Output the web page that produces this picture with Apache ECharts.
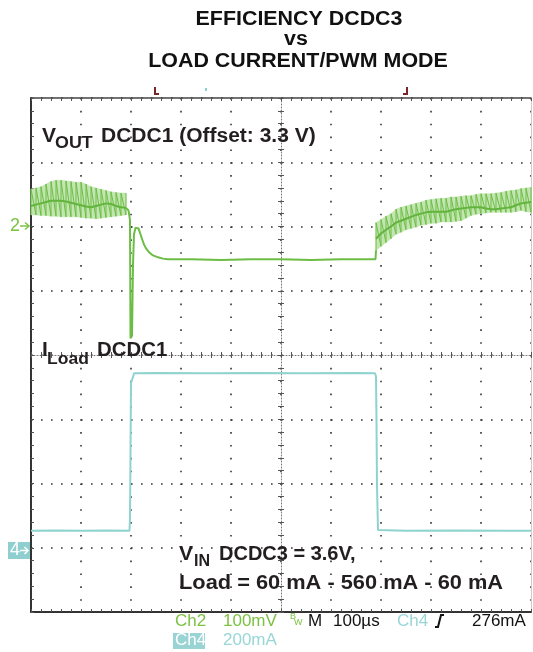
<!DOCTYPE html>
<html>
<head>
<meta charset="utf-8">
<script src="https://cdn.jsdelivr.net/npm/echarts@6/dist/echarts.min.js"></script>
<style>
  html, body { margin: 0; padding: 0; background: #fff; }
  #scope { width: 533px; height: 652px; }
</style>
</head>
<body>
<div id="scope"></div>
<script>
  // time in µs (100 µs/div, centre of screen = 0), Ch2 in mV (offset 3.3 V), Ch4 in mA
  const bandLeftT = [-500, -490, -480, -470, -460, -450, -440, -430, -420, -410,
    -400, -390, -380, -370, -360, -350, -340, -330, -320, -310];
  const bandLeftHi = [58, 60, 62, 66, 70, 72, 72, 71, 70, 69, 69, 66, 62, 60, 58, 56, 54, 53, 52, 52];
  const bandLeftLo = [18, 18, 17, 17, 16, 16, 15, 15, 15, 15, 14, 13, 13, 12, 13, 14, 15, 16, 17, 18];
  const bandLeftMid = [32, 34, 36, 38, 40, 40, 40, 39, 37, 35, 33, 31, 30, 32, 34, 36, 35, 32, 30, 29];

  const bandRightT = [190, 200, 210, 220, 230, 240, 250, 260, 270, 280, 290, 300, 310, 320, 330, 340,
    350, 360, 370, 380, 390, 400, 410, 420, 430, 440, 450, 460, 470, 480, 490, 500];
  const bandRightHi = [6, 11, 16, 20, 27, 30, 32, 34, 36, 38, 41, 42, 43, 44, 44, 46,
    46, 47, 48, 48, 50, 51, 51, 51, 52, 53, 55, 56, 57, 59, 60, 61];
  const bandRightLo = [-37, -31, -25, -19, -12, -9, -5, -3, -1, 2, 3, 5, 5, 7, 7, 7,
    8, 9, 13, 17, 19, 20, 21, 22, 22, 22, 22, 22, 23, 25, 23, 22];
  const bandRightMid = [-19, -11, -5, 0, 6, 9, 12, 15, 18, 20, 22, 23, 23, 23, 23, 25,
    27, 28, 29, 30, 30, 30, 28, 27, 27, 28, 29, 30, 33, 36, 37, 38];

  // Ch2 load-step transient and the flat PWM part
  const vStepT = [-310, -305, -302, -301, -298, -296, -294, -291, -288, -285, -282, -278, -274, -270,
    -264, -256, -246, -236, -226, -180, -120, -60, 0, 60, 120, 189, 190];
  const vStepMv = [29, 25, 10, -174, -170, -60, -12, -2, 0, -3, -10, -19, -28, -34,
    -40, -45, -48, -50, -51, -51, -52, -51, -51, -52, -51, -51, -37];

  // Ch4 load current
  const iLoadT = [-500, -450, -400, -350, -303, -302, -300, -296, -294, -250, -150, -50, 50, 150, 188, 190, 191, 192, 194, 196, 250, 350, 450, 500];
  const iLoadMa = [60, 61, 60, 61, 60, 100, 520, 538, 550, 551, 550, 551, 550, 551, 550, 540, 400, 200, 62, 58, 60, 61, 60, 60];

  const green = '#6cbd45';
  const greenLight = '#c3e5b1';
  const cyan = '#8fd3d0';

  function pairs (xs, ys) {
    return xs.map((x, i) => [x, ys[i]]);
  }
  function triples (xs, lo, hi) {
    return xs.map((x, i) => [x, lo[i], hi[i]]);
  }
  function sawtooth (xs, lo, hi) {
    let out = [];
    xs.forEach((x, i) => {
      out.push([x, lo[i]]);
      out.push([x, hi[i]]);
    });
    return out;
  }

  // light envelope of the ripple: one quad between neighbouring samples
  function renderBand (params, api) {
    let i = params.dataIndexInside;
    if (i >= params.dataInsideLength - 1) return null;
    let a = api.coord([api.value(0, i), api.value(1, i)]);
    let b = api.coord([api.value(0, i), api.value(2, i)]);
    let c = api.coord([api.value(0, i + 1), api.value(2, i + 1)]);
    let d = api.coord([api.value(0, i + 1), api.value(1, i + 1)]);
    return {
      type: 'polygon',
      shape: {points: [a, b, c, d]},
      style: {fill: greenLight, stroke: greenLight, lineWidth: 0.5}
    };
  }

  const tickStyle = {color: '#555', width: 1};
  function timeAxis (pos, extra) {
    return Object.assign({
      type: 'value', min: -500, max: 500, interval: 100, position: pos,
      axisLabel: {show: false},
      axisTick: {show: true, inside: true, length: 3, lineStyle: tickStyle},
      minorTick: {show: true, splitNumber: 5, length: 3, lineStyle: tickStyle},
      splitLine: {show: false}
    }, extra);
  }
  function divAxis (pos, extra) {
    return Object.assign({
      type: 'value', min: -4, max: 4, interval: 1, position: pos,
      axisLabel: {show: false},
      axisTick: {show: true, inside: true, length: 3, lineStyle: tickStyle},
      minorTick: {show: true, splitNumber: 5, length: 3, lineStyle: tickStyle},
      splitLine: {show: false}
    }, extra);
  }

  function label (text, x, y, size, scaleX, color, font, align) {
    return {
      type: 'text', x: x, y: y, scaleX: scaleX || 1, z: 100,
      style: {
        text: text, fill: color || '#231f20',
        font: font || ('bold ' + size + 'px "Liberation Sans", Arial, sans-serif'),
        textAlign: align || 'left', textVerticalAlign: 'middle'
      }
    };
  }
  const scopeFont = '17px "Liberation Sans", Arial, sans-serif';

  let myChart = echarts.init(document.getElementById('scope'));
  myChart.setOption({
    animation: false,
    grid: {left: 31, top: 98, right: 2, bottom: 40},
    xAxis: [
      timeAxis('bottom', {
        axisLine: {onZero: false, lineStyle: {color: '#333', width: 2}},
        splitLine: {show: true, lineStyle: {color: '#333', width: 1.6, type: [1.6, 11.25]}}
      }),
      timeAxis('top', {axisLine: {onZero: false, lineStyle: {color: '#444', width: 1.5}}}),
      timeAxis('bottom', {axisLine: {onZero: true, onZeroAxisIndex: 0, lineStyle: {color: '#777', width: 1, type: [1, 2]}}}),
      timeAxis('top', {axisLine: {show: false, onZero: true, onZeroAxisIndex: 0}})
    ],
    yAxis: [
      divAxis('left', {
        axisLine: {onZero: false, lineStyle: {color: '#333', width: 2}},
        splitLine: {show: true, lineStyle: {color: '#333', width: 1.6, type: [1.6, 8.4]}}
      }),
      divAxis('right', {axisLine: {onZero: false, lineStyle: {color: '#ccc', width: 1}}, axisTick: {show: false}, minorTick: {show: false}}),
      divAxis('left', {axisLine: {onZero: true, onZeroAxisIndex: 0, lineStyle: {color: '#777', width: 1, type: [1, 2]}}}),
      divAxis('right', {axisLine: {show: false, onZero: true, onZeroAxisIndex: 0}}),
      {type: 'value', min: -600, max: 200, show: false},
      {type: 'value', min: -193, max: 1407, show: false}
    ],
    series: [
      {
        name: 'band-left', type: 'custom', yAxisIndex: 4, renderItem: renderBand,
        data: triples(bandLeftT, bandLeftLo, bandLeftHi), encode: {x: 0, y: [1, 2]}, silent: true
      },
      {
        name: 'band-right', type: 'custom', yAxisIndex: 4, renderItem: renderBand,
        data: triples(bandRightT, bandRightLo, bandRightHi), encode: {x: 0, y: [1, 2]}, silent: true
      },
      {
        name: 'ripple-left', type: 'line', yAxisIndex: 4, data: sawtooth(bandLeftT, bandLeftLo, bandLeftHi),
        symbol: 'none', lineStyle: {color: green, width: 1}, silent: true
      },
      {
        name: 'ripple-right', type: 'line', yAxisIndex: 4, data: sawtooth(bandRightT, bandRightLo, bandRightHi),
        symbol: 'none', lineStyle: {color: green, width: 1}, silent: true
      },
      {
        name: 'vout-left', type: 'line', yAxisIndex: 4, data: pairs(bandLeftT, bandLeftMid),
        symbol: 'none', lineStyle: {color: '#62b43c', width: 2}, silent: true
      },
      {
        name: 'vout-right', type: 'line', yAxisIndex: 4, data: pairs(bandRightT, bandRightMid),
        symbol: 'none', lineStyle: {color: '#62b43c', width: 2}, silent: true
      },
      {
        name: 'vout-step', type: 'line', yAxisIndex: 4, data: pairs(vStepT, vStepMv),
        symbol: 'none', lineStyle: {color: green, width: 2}, silent: true
      },
      {
        name: 'iload', type: 'line', yAxisIndex: 5, data: pairs(iLoadT, iLoadMa),
        symbol: 'none', lineStyle: {color: cyan, width: 2}, silent: true
      }
    ],
    graphic: [
      label('EFFICIENCY DCDC3', 299, 19, 20, 1.07, '#111', null, 'center'),
      label('vs', 296, 39, 20, 1.07, '#111', null, 'center'),
      label('LOAD CURRENT/PWM MODE', 298, 61, 20, 1.07, '#111', null, 'center'),

      label('V', 42, 136.5, 20, 1.05),
      label('OUT', 55, 143, 17, 1.05),
      label('DCDC1 (Offset: 3.3 V)', 101, 136.5, 20, 1.05),

      label('I', 42, 350, 20, 1.05),
      label('Load', 47, 359, 17, 1.03),
      label('DCDC1', 97, 350, 20, 1.02),

      label('V', 179, 554, 20, 1.05),
      label('IN', 194, 562, 16, 1.0),
      label('DCDC3 = 3.6V,', 219, 554, 20, 1.0),
      label('Load = 60 mA - 560 mA - 60 mA', 179, 583, 20, 1.09),

      // channel ground markers
      label('2', 10, 226, 18, 1, '#7cc242', '18px "Liberation Sans", sans-serif'),
      {type: 'polyline', z: 100, shape: {points: [[20, 226], [29, 226]]}, style: {stroke: '#7cc242', lineWidth: 1.5, fill: null}},
      {type: 'polyline', z: 100, shape: {points: [[25, 222.5], [29, 226], [25, 229.5]]}, style: {stroke: '#7cc242', lineWidth: 1.5, fill: null}},
      {type: 'rect', z: 99, shape: {x: 8, y: 542, width: 22, height: 17}, style: {fill: '#8fcfcf'}},
      label('4', 10, 550.5, 18, 1, '#fff', '18px "Liberation Sans", sans-serif'),
      {type: 'polyline', z: 100, shape: {points: [[20, 550.5], [28, 550.5]]}, style: {stroke: '#fff', lineWidth: 1.5, fill: null}},
      {type: 'polyline', z: 100, shape: {points: [[24.5, 547], [28, 550.5], [24.5, 554]]}, style: {stroke: '#fff', lineWidth: 1.5, fill: null}},

      // cursor / trigger markers above the graticule
      {type: 'polyline', z: 100, shape: {points: [[155, 87], [155, 94], [159, 94]]}, style: {stroke: '#7a2424', lineWidth: 2, fill: null}},
      {type: 'polyline', z: 100, shape: {points: [[407, 87], [407, 94], [403, 94]]}, style: {stroke: '#7a2424', lineWidth: 2, fill: null}},
      {type: 'rect', z: 100, shape: {x: 205, y: 88, width: 2, height: 3}, style: {fill: '#8fd3d0'}},

      // status readout
      label('Ch2', 175, 621, 17, 1, '#7cc242', scopeFont),
      label('100mV', 223, 621, 17, 1, '#7cc242', scopeFont),
      label('B', 290, 616.5, 9, 1, '#7cc242', '9px "Liberation Sans", sans-serif'),
      label('W', 294, 622.5, 9, 1, '#7cc242', '9px "Liberation Sans", sans-serif'),
      label('M', 308, 621, 17, 1, '#111', scopeFont),
      label('100µs', 333, 621, 17, 1, '#111', scopeFont),
      label('Ch4', 397, 621, 17, 1, '#9ad6d6', scopeFont),
      {type: 'polyline', z: 100, shape: {points: [[435, 627], [438, 627], [441, 615], [444, 615]]}, style: {stroke: '#111', lineWidth: 2, fill: null}},
      label('276mA', 472, 621, 17, 1, '#111', scopeFont),
      {type: 'rect', z: 99, shape: {x: 173, y: 633, width: 32, height: 16}, style: {fill: '#9ad3d3'}},
      label('Ch4', 175, 640.5, 17, 1, '#fff', scopeFont),
      label('200mA', 223, 640.5, 17, 1, '#9ad6d6', scopeFont)
    ]
  });
</script>
</body>
</html>
